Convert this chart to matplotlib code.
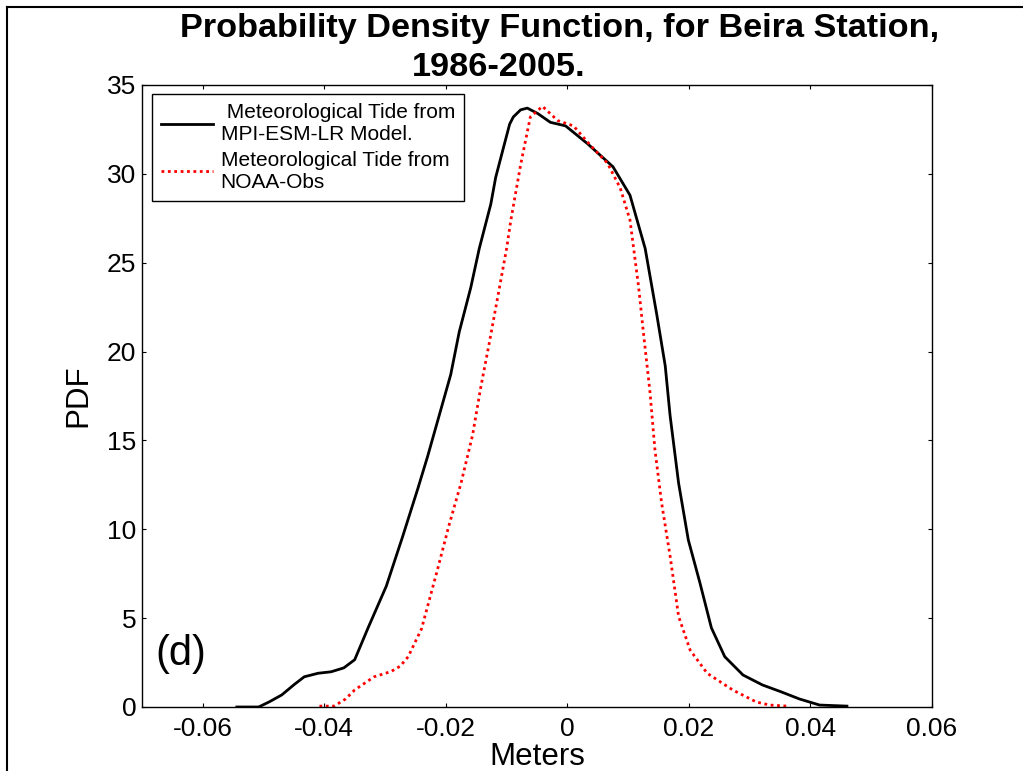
import numpy as np
import matplotlib
matplotlib.use("Agg")
import matplotlib.pyplot as plt
from matplotlib.lines import Line2D

plt.rcParams['font.family'] = ['Liberation Sans', 'DejaVu Sans']

# model (MPI-ESM-LR) curve
model_x = [-0.0544, -0.0508, -0.0490, -0.0470, -0.0450, -0.0433, -0.0410, -0.0389,
           -0.0368, -0.0350, -0.0328, -0.0298,
           -0.0271, -0.0246, -0.0230, -0.0211, -0.0192, -0.0178, -0.0159, -0.0145,
           -0.0126, -0.0118, -0.0105, -0.0095, -0.0089, -0.0077, -0.0066, -0.0049,
           -0.0028, -0.0003, 0.0033, 0.0075, 0.0103, 0.0128, 0.0147, 0.0161,
           0.0169, 0.0183, 0.0199, 0.0218, 0.0237, 0.0259, 0.0289, 0.0321,
           0.0352, 0.0382, 0.0415, 0.0460]
model_y = [0.0, 0.0, 0.3, 0.68, 1.25, 1.7, 1.9, 1.98,
           2.2, 2.66, 4.45, 6.8,
           9.6, 12.3, 14.1, 16.4, 18.7, 21.1, 23.6, 25.8,
           28.3, 29.8, 31.5, 32.8, 33.2, 33.6, 33.7, 33.4,
           32.9, 32.7, 31.7, 30.4, 28.8, 25.8, 22.1, 19.2,
           16.4, 12.6, 9.4, 7.0, 4.45, 2.83, 1.8, 1.24,
           0.85, 0.45, 0.11, 0.05]

# NOAA observations curve
obs_x = [-0.0408, -0.0384, -0.0365, -0.0350, -0.0318, -0.0290, -0.0275, -0.0262,
         -0.0240, -0.0214,
         -0.0195, -0.0175, -0.0156, -0.0143, -0.0129, -0.0115, -0.0100, -0.0093,
         -0.0077, -0.0061, -0.0041, -0.0016, 0.0010, 0.0038, 0.0066, 0.0087,
         0.0103, 0.0117, 0.0125, 0.0136, 0.0144, 0.0155, 0.0169, 0.0183,
         0.0202, 0.0230, 0.0272, 0.0311, 0.0333, 0.0362]
obs_y = [0.05, 0.05, 0.45, 0.96, 1.7, 2.0, 2.3, 2.83,
         4.4, 7.7,
         10.2, 12.6, 15.3, 17.9, 20.4, 23.0, 25.8, 27.4,
         30.5, 33.2, 33.8, 33.0, 32.7, 31.6, 30.6, 29.2,
         27.4, 23.7, 21.1, 17.7, 14.5, 11.5, 8.5, 5.1,
         3.2, 1.9, 0.96, 0.28, 0.11, 0.05]

x_ticks = [-0.06, -0.04, -0.02, 0, 0.02, 0.04, 0.06]
x_ticklabels = ['-0.06', '-0.04', '-0.02', '0', '0.02', '0.04', '0.06']
y_ticks = [0, 5, 10, 15, 20, 25, 30, 35]

W, H = 1023, 771
fig = plt.figure(figsize=(W / 100, H / 100), dpi=100)
ax = fig.add_axes([142 / W, 1 - 707 / H, 790 / W, 622 / H])

ax.plot(model_x, model_y, color='black', lw=2.0,
        label=' Meteorological Tide from\nMPI-ESM-LR Model.')
ax.plot(obs_x, obs_y, color='red', lw=2.0, linestyle=(0, (1, 1.3)),
        label='Meteorological Tide from\nNOAA-Obs')

ax.set_xlim(-0.07, 0.06)
ax.set_ylim(0, 35)
ax.set_xticks(x_ticks)
ax.set_xticklabels(x_ticklabels)
ax.set_yticks(y_ticks)
ax.tick_params(direction='in', length=3, width=0.8, top=True, right=True,
               labelsize=19)
ax.tick_params(axis='x', pad=7)
ax.tick_params(axis='y', pad=4)
for sp in ax.spines.values():
    sp.set_linewidth(1.0)

ax.set_xlabel('Meters', fontsize=22.5)
ax.xaxis.set_label_coords(0.5, -0.057)
ax.set_ylabel('PDF', fontsize=22.5)
ax.yaxis.set_label_coords(-0.062, 0.5)

ax.text(-0.0678, 3.0, '(d)', fontsize=30, va='center', ha='left')

leg = ax.legend(loc='upper left', bbox_to_anchor=(152 / W, 1 - 94 / H),
                bbox_transform=fig.transFigure, borderaxespad=0,
                fontsize=15, handlelength=2.5, handletextpad=0.35,
                labelspacing=0.3, borderpad=0.45, fancybox=False,
                framealpha=1, edgecolor='black')
leg.get_frame().set_linewidth(1.0)

fig.text(560 / W, 1 - 37 / H, 'Probability Density Function, for Beira Station,',
         fontsize=24.7, fontweight='bold', ha='center', va='baseline')
fig.text(499 / W, 1 - 76 / H, '1986-2005.',
         fontsize=24.7, fontweight='bold', ha='center', va='baseline')

# outer frame lines (top and left)
fig.add_artist(Line2D([7 / W, 1.0], [1 - 7 / H, 1 - 7 / H], color='black', lw=1.5,
                      transform=fig.transFigure))
fig.add_artist(Line2D([7 / W, 7 / W], [0, 1 - 7 / H], color='black', lw=1.5,
                      transform=fig.transFigure))

fig.savefig('out.png', dpi=100)
